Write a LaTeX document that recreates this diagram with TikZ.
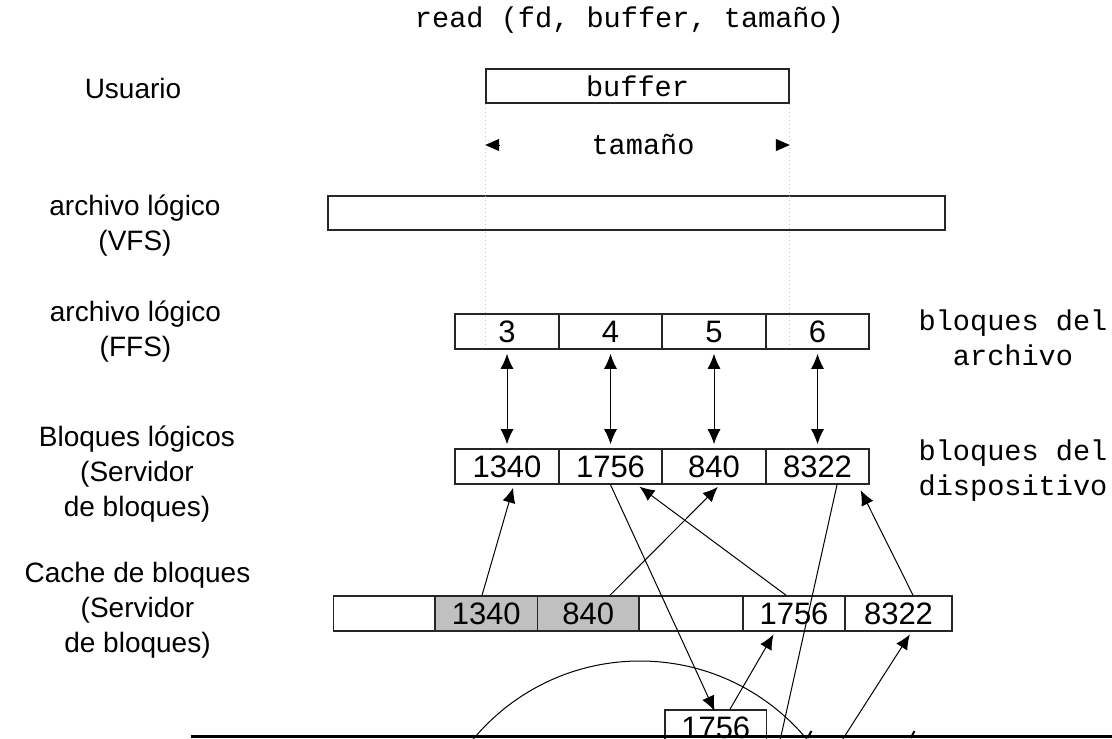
\documentclass[tikz,border=0pt]{standalone}
\usepackage{fontspec}
\setsansfont{Liberation Sans}
\setmonofont{Liberation Mono}
\usetikzlibrary{arrows.meta}
\definecolor{cachegray}{RGB}{192,192,192}
\definecolor{guideyellow}{RGB}{245,195,70}
\tikzset{%
  every cell/.style={
    rectangle,
    draw=black!85,
    line width=0.8pt,
    minimum height=17.5pt,
    inner sep=0pt,
    font=\sffamily\fontsize{15.5}{16}\selectfont
  },
  layer label/.style={
    align=center,
    font=\sffamily\fontsize{14}{17.5}\selectfont
  },
  code label/.style={
    align=center,
    font=\ttfamily\fontsize{14.3}{17.5}\selectfont
  },
  link/.style={
    line width=0.5pt,
    -{Latex[length=7.5pt,width=6.5pt]},
    shorten >=1.5pt
  },
  both link/.style={
    line width=0.5pt,
    {Latex[length=7.5pt,width=6.5pt]}-{Latex[length=7.5pt,width=6.5pt]},
    shorten <=2pt,
    shorten >=2pt
  },
  size tip/.style={
    line width=0.5pt,
    -{Triangle[length=7pt,width=6pt]}
  },
  guide/.style={
    draw=guideyellow,
    line width=0.6pt,
    dash pattern=on 0.6pt off 1.4pt
  },
}

\begin{document}
\begin{tikzpicture}[x=0.5pt, y=-0.5pt]
        \useasboundingbox (0,0) rectangle (1112,738);
        \clip (0,0) rectangle (1112,738);

        % user side
        \node [code label] (call) at (629.5,20) {read (fd, buffer, tamaño)};
        \node [every cell, font=\ttfamily\fontsize{14.3}{16}\selectfont,
               minimum width=151.5pt, minimum height=17pt] (buffer) at (637.5,86) {buffer};
        \node [code label] (size) at (643,145) {tamaño};
        \coordinate (size-l) at (buffer.west |- size);
        \coordinate (size-r) at (buffer.east |- size);
        \draw [size tip] ([xshift=7pt]size-l) -- (size-l);
        \draw [size tip] ([xshift=-7pt]size-r) -- (size-r);

        \node [every cell, minimum width=308.5pt, minimum height=17pt] (vfs) at (636.5,213) {};

        % layers
        \foreach \l [count=\i] in {3,4,5,6}
        \node [every cell, minimum width=51.75pt] (ffs-\i) at (403.5+\i*103.5,331.5) {\l};

        \foreach \l [count=\i] in {1340,1756,840,8322}
        \node [every cell, minimum width=51.75pt] (blq-\i) at (403.5+\i*103.5,466.5) {\l};

        \foreach \x/\w/\l/\f [count=\i] in {384.25/50.75//white, 486.25/51.25/1340/cachegray,
            588.25/50.75/840/cachegray, 691/52//white, 794/51/1756/white, 898.5/53.5/8322/white}
        \node [every cell, minimum width=\w pt, fill=\f] (cache-\i) at (\x,613.5) {\l};

        \node [every cell, minimum width=50.75pt] (io-blk) at (715.75,727.5) {1756};

        % guides
        \draw [guide, shorten >=2pt] (buffer.south west) -- (buffer.south west |- ffs-1.south);
        \draw [guide, shorten >=2pt] (buffer.south east) -- (buffer.south east |- ffs-1.south);

        %   label
        \node [layer label] (user) at (133,88) {Usuario};
        \node [layer label] (vfs-label) at (135,225.5) {archivo lógico\\(VFS)};
        \node [layer label] (ffs-label) at (135.5,331.5) {archivo lógico\\(FFS)};
        \node [layer label] (blq-label) at (137,474) {Bloques lógicos\\(Servidor\\de bloques)};
        \node [layer label] (cache-label) at (137.5,610) {Cache de bloques\\(Servidor\\de bloques)};

        \node [code label] (file-blocks) at (1013,337.5) {bloques del\\archivo};
        \node [code label] (dev-blocks) at (1013,471) {bloques del\\dispositivo};

        % links
        \foreach \i in {1,...,4}
        \draw [both link] (ffs-\i) -- (blq-\i);

        \draw [link] ([xshift=-2.1pt]cache-2.north) -- ([xshift=3.5pt]blq-1.south);
        \draw [link] ([xshift=10.9pt]cache-3.north) -- ([xshift=3pt]blq-3.south);
        \draw [link] ([xshift=-4pt]cache-5.north) -- ([xshift=13.25pt]blq-2.south);
        \draw [link, shorten >=3pt] ([xshift=7.25pt]cache-6.north) -- ([xshift=20.25pt]blq-4.south);

        \draw [link, shorten >=-1pt] (blq-2.south) -- ([xshift=-1pt]io-blk.north);
        \coordinate (lost-1) at (779,745);
        \draw [line width=0.5pt] ([xshift=9.75pt]blq-4.south) -- (lost-1);
        \draw [link] ([xshift=7.1pt]io-blk.north) -- ([xshift=-9.5pt]cache-5.south);
        \coordinate (lost-2) at (839,745);
        \draw [link] (lost-2) -- ([xshift=6.5pt]cache-6.south);

        % disk
        \draw [line width=0.5pt] (640,878) circle [radius=217];
        \draw [line width=1.2pt] (191,736.5) -- (1112,736.5);
        \draw [line width=1pt] (811.4,731) -- (807.6,738);
        \draw [line width=1pt] (914.5,731) -- (910.8,738);

    \end{tikzpicture}
\end{document}
